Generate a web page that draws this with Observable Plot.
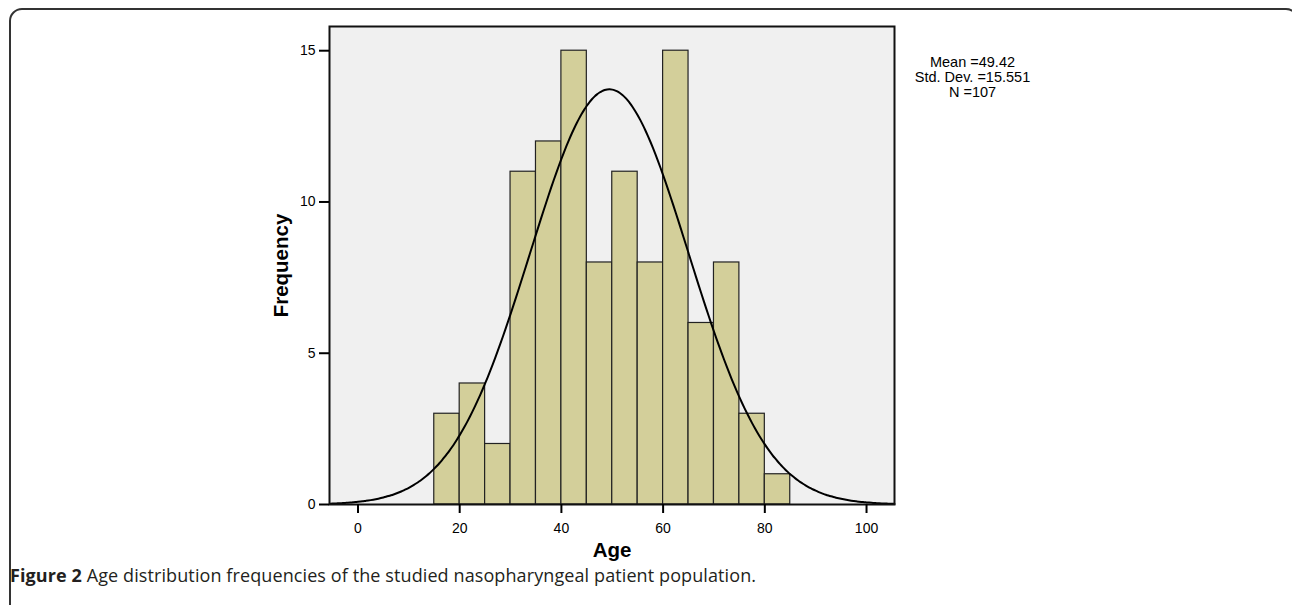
<!DOCTYPE html>
<html>
<head>
<meta charset="utf-8">
<script src="https://cdn.jsdelivr.net/npm/d3@7"></script>
<script src="https://cdn.jsdelivr.net/npm/@observablehq/plot@0.6"></script>
<style>
  html, body { margin: 0; padding: 0; background: #fff; }
  #wrap { position: relative; width: 1292px; height: 605px; overflow: hidden; }
  #border { position: absolute; left: 9px; top: 8px; width: 1290px; height: 640px;
    border: 2px solid #333; border-radius: 13px; box-sizing: border-box; }
  #chart { position: absolute; left: 0; top: 0; }
  #caption { position: absolute; left: 10px; top: 563px; font-family: "Open Sans", sans-serif;
    font-size: 18px; color: #231f20; white-space: nowrap; letter-spacing: 0.1px; }
  #caption b { font-weight: 700; }
</style>
</head>
<body>
<div id="wrap">
  <div id="border"></div>
  <div id="chart"></div>
  <div id="caption"><b>Figure 2</b> Age distribution frequencies of the studied nasopharyngeal patient population.</div>
</div>
<script>
// Histogram bins (age, width 5) and frequencies
const binStart = [15, 20, 25, 30, 35, 40, 45, 50, 55, 60, 65, 70, 75, 80];
const binEnd   = [20, 25, 30, 35, 40, 45, 50, 55, 60, 65, 70, 75, 80, 85];
const counts   = [3, 4, 2, 11, 12, 15, 8, 11, 8, 15, 6, 8, 3, 1];
const xTicks = [0, 20, 40, 60, 80, 100];
const yTicks = [0, 5, 10, 15];
// Summary statistics shown in the figure
const mean = 49.42;
const sd = 15.551;
const n = 107;
const binWidth = 5;

const bins = binStart.map((s, i) => ({x1: s, x2: binEnd[i], y: counts[i]}));

// Fitted normal curve (as drawn by SPSS): N * binWidth * pdf
const curve = d3.range(-5.5, 105.6, 0.5).map(x => ({
  x, y: n * binWidth * Math.exp(-0.5 * ((x - mean) / sd) ** 2) / (sd * Math.sqrt(2 * Math.PI))
}));

const chart = Plot.plot({
  width: 1292,
  height: 570,
  marginLeft: 329,
  marginRight: 398,
  marginTop: 26,
  marginBottom: 66,
  style: {fontFamily: "'Liberation Sans', Arial, sans-serif", fontSize: "14px", color: "#000", background: "transparent"},
  x: {domain: [-5.6, 105.5]},
  y: {domain: [0, 15.8]},
  marks: [
    Plot.frame({fill: "#f0f0f0"}),
    Plot.rectY(bins, {x1: "x1", x2: "x2", y: "y", fill: "#d3cf9a", stroke: "#222", strokeWidth: 1.2, inset: 0}),
    Plot.line(curve, {x: "x", y: "y", stroke: "#000", strokeWidth: 2, curve: "basis"}),
    Plot.frame({stroke: "#111", strokeWidth: 2}),
    Plot.axisX({ticks: xTicks, tickSize: 9, tickPadding: 10, strokeWidth: 2,
      label: "Age", labelAnchor: "center", labelArrow: "none", labelOffset: 52}),
    Plot.axisY({ticks: yTicks, tickSize: 10, tickPadding: 4, strokeWidth: 2,
      label: "Frequency", labelAnchor: "center", labelArrow: "none", labelOffset: 56}),
    Plot.text([`Mean =${mean}\nStd. Dev. =${sd}\nN =${n}`], {
      frameAnchor: "top-right", dx: 78, dy: 30, textAnchor: "middle", lineAnchor: "top",
      lineHeight: 1.034, fontSize: 14.5, fill: "#000"
    })
  ]
});
// font sizes of axis texts
chart.querySelectorAll("g[aria-label='x-axis tick label'] text, g[aria-label='y-axis tick label'] text").forEach(t => {
  t.style.fontSize = "14px";
});
chart.querySelectorAll("g[aria-label='x-axis label'] text, g[aria-label='y-axis label'] text").forEach(t => {
  t.style.fontWeight = "bold"; t.style.fontSize = "20.5px";
});
document.getElementById("chart").appendChild(chart);
</script>
</body>
</html>
